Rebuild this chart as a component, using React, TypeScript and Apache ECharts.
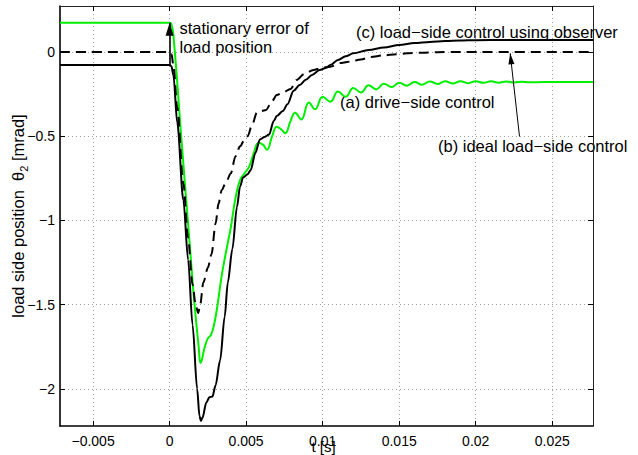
import React, { useEffect, useRef } from "react";
import * as echarts from "echarts";

// ---- axis ticks ----
const xTicks = [-0.005, 0, 0.005, 0.01, 0.015, 0.02, 0.025];
const xTickLabels = ["\u22120.005", "0", "0.005", "0.01", "0.015", "0.02", "0.025"];
const yTicks = [-2, -1.5, -1, -0.5, 0];
const yTickLabels = ["\u22122", "\u22121.5", "\u22121", "\u22120.5", "0"];
const xRange = [-0.00716, 0.02766];
const yRange = [-2.22, 0.273];

// ---- (a) drive-side control (green) ----
const tA = [
  -0.00716, 0.0, 0.00012, 0.00025, 0.0008, 0.00132, 0.0016, 0.0019, 0.00202, 0.0021,
  0.0023, 0.0025, 0.0027, 0.0029, 0.0031, 0.0034, 0.0037, 0.004, 0.0043, 0.0046,
  0.0049, 0.0052, 0.0055, 0.0058, 0.0061, 0.00635, 0.0067, 0.007, 0.0073, 0.00755,
  0.0079, 0.0082, 0.0086, 0.0091, 0.0095, 0.01, 0.0105, 0.011, 0.0115, 0.012,
  0.0125, 0.013, 0.0135, 0.014, 0.0145, 0.015, 0.0155, 0.016, 0.0165, 0.017,
  0.0175, 0.018, 0.0185, 0.019, 0.0195, 0.02, 0.0205, 0.021, 0.0215, 0.022,
  0.0225, 0.023, 0.0235, 0.0245, 0.02766,
];
const vA = [
  0.174, 0.174, 0.165, 0.1, -0.55, -1.15, -1.47, -1.75, -1.846, -1.83,
  -1.75, -1.7, -1.68, -1.62, -1.52, -1.33, -1.18, -1.04, -0.87, -0.76,
  -0.72, -0.68, -0.6, -0.54, -0.55, -0.58, -0.5, -0.443, -0.46, -0.482,
  -0.41, -0.36, -0.4, -0.3, -0.34, -0.265, -0.295, -0.235, -0.265, -0.213,
  -0.24, -0.198, -0.222, -0.188, -0.208, -0.182, -0.2, -0.178, -0.194, -0.175,
  -0.19, -0.174, -0.187, -0.173, -0.185, -0.173, -0.183, -0.174, -0.182, -0.175,
  -0.181, -0.176, -0.18, -0.178, -0.178,
];

// ---- (b) ideal load-side control (dashed) ----
const tB = [
  -0.00716, 0.0, 0.00012, 0.00025, 0.0005, 0.0009, 0.0012, 0.0015, 0.0017, 0.00187,
  0.002, 0.0022, 0.0025, 0.00274, 0.003, 0.0032, 0.0034, 0.0037, 0.004, 0.0043,
  0.0046, 0.0049, 0.0051, 0.0054, 0.0057, 0.006, 0.0063, 0.0067, 0.007, 0.0074,
  0.0079, 0.0083, 0.0088, 0.0094, 0.0099, 0.0105, 0.0112, 0.0118, 0.0125, 0.0131,
  0.014, 0.0148, 0.0155, 0.0165, 0.0175, 0.019, 0.02766,
];
const vB = [
  0, 0, -0.01, -0.08, -0.33, -0.78, -1.1, -1.38, -1.5, -1.55,
  -1.5, -1.37, -1.28, -1.2, -1.02, -0.9, -0.82, -0.77, -0.72, -0.62,
  -0.56, -0.52, -0.5, -0.43, -0.36, -0.35, -0.344, -0.29, -0.255, -0.24,
  -0.22, -0.166, -0.13, -0.107, -0.095, -0.087, -0.065, -0.057, -0.045, -0.03,
  -0.02, -0.014, -0.008, -0.004, -0.001, 0, 0,
];

// ---- (c) load-side control using observer (solid black) ----
const tC = [
  -0.00716, 0.0, 0.00012, 0.00025, 0.0005, 0.0009, 0.00121, 0.0015, 0.0018, 0.00195,
  0.00205, 0.00215, 0.0024, 0.0026, 0.0028, 0.003, 0.0033, 0.0036, 0.0038, 0.0041,
  0.0044, 0.0046, 0.0048, 0.0051, 0.0053, 0.0056, 0.0059, 0.0062, 0.0065, 0.0068,
  0.007, 0.0074, 0.0077, 0.0081, 0.0085, 0.0089, 0.0093, 0.0098, 0.0102, 0.0105,
  0.011, 0.0115, 0.012, 0.013, 0.014, 0.015, 0.016, 0.017, 0.018, 0.019,
  0.02, 0.022, 0.02766,
];
const vC = [
  -0.077, -0.077, -0.085, -0.14, -0.42, -0.88, -1.234, -1.62, -2.0, -2.16,
  -2.19, -2.17, -2.08, -2.05, -2.045, -1.98, -1.83, -1.57, -1.37, -1.17,
  -0.92, -0.8, -0.745, -0.725, -0.7, -0.6, -0.52, -0.505, -0.49, -0.41,
  -0.38, -0.35, -0.31, -0.23, -0.196, -0.165, -0.136, -0.107, -0.095, -0.077,
  -0.047, -0.025, -0.008, 0.012, 0.027, 0.042, 0.053, 0.06, 0.065, 0.068,
  0.07, 0.071, 0.071,
];

// ---- annotation arrows (data coords: [tail, head]) ----
const errArrowT = [0, 0];
const errArrowV = [-0.077, 0.174];
const idealArrowT = [0.02286, 0.02225];
const idealArrowV = [-0.502, -0.008];

const FONT = "'Liberation Sans', Arial, Helvetica, sans-serif";

function zip(t: number[], v: number[]) {
  return t.map((x, i) => [x, v[i]]);
}

function lookup(ticks: number[], labels: string[], v: number) {
  const i = ticks.findIndex((t) => Math.abs(t - v) < 1e-9);
  return i >= 0 ? labels[i] : "";
}

export default function App() {
  const ref = useRef<HTMLDivElement>(null);
  useEffect(() => {
    if (!ref.current) return;
    const chart = echarts.init(ref.current, null, { renderer: "svg" });
    const grid = { color: "#a0a0a0", type: [1, 3] as any, width: 1 };
    const option: any = {
      animation: false,
      backgroundColor: "#fff",
      grid: { left: 60, top: 6, width: 533, height: 420, outerBoundsMode: "none", containLabel: false },
      xAxis: [
        {
          type: "value",
          position: "bottom",
          min: xRange[0],
          max: xRange[1],
          axisLine: { onZero: false, lineStyle: { color: "#000", width: 1.6 } },
          axisTick: { inside: true, length: 5, customValues: xTicks, lineStyle: { color: "#000" } },
          axisLabel: {
            customValues: xTicks,
            formatter: (v: number) => lookup(xTicks, xTickLabels, v),
            color: "#000",
            fontSize: 14,
            fontFamily: FONT,
            margin: 8,
          },
          splitLine: { show: true, lineStyle: grid },
          name: "t [s]",
          nameLocation: "middle",
          nameGap: 13,
          nameMoveOverlap: false,
          nameTextStyle: { color: "#000", fontSize: 15, lineHeight: 15, fontFamily: FONT, padding: [0, 6, 0, 0] },
        },
        {
          type: "value",
          position: "top",
          min: xRange[0],
          max: xRange[1],
          axisLine: { onZero: false, lineStyle: { color: "#222", width: 1 } },
          axisTick: { inside: true, length: 5, customValues: xTicks, lineStyle: { color: "#000" } },
          axisLabel: { show: false },
          splitLine: { show: false },
        },
      ],
      yAxis: [
        {
          type: "value",
          position: "left",
          min: yRange[0],
          max: yRange[1],
          axisLine: { show: true, onZero: false, lineStyle: { color: "#000", width: 1.6 } },
          axisTick: { show: true, inside: true, length: 5, customValues: yTicks, lineStyle: { color: "#000" } },
          axisLabel: {
            customValues: yTicks,
            formatter: (v: number) => lookup(yTicks, yTickLabels, v),
            color: "#000",
            fontSize: 14,
            fontFamily: FONT,
            margin: 5,
          },
          splitLine: { show: true, lineStyle: grid },
          name: "load side position  \u03b8{sub|2} [mrad]",
          nameLocation: "middle",
          nameGap: 31,
          nameMoveOverlap: false,
          nameTextStyle: {
            color: "#000",
            fontSize: 16.5,
            fontFamily: FONT,
            lineHeight: 22,
            rich: {
              sub: { fontSize: 11, fontFamily: FONT, color: "#000", verticalAlign: "bottom", lineHeight: 22 },
            },
          },
        },
        {
          type: "value",
          position: "right",
          min: yRange[0],
          max: yRange[1],
          axisLine: { show: true, onZero: false, lineStyle: { color: "#222", width: 1 } },
          axisTick: { show: true, inside: true, length: 5, customValues: yTicks, lineStyle: { color: "#000" } },
          axisLabel: { show: false },
          splitLine: { show: false },
        },
      ],
      series: [
        {
          name: "(a)",
          type: "line",
          data: zip(tA, vA),
          showSymbol: false,
          smooth: 0.45,
          lineStyle: { color: "#00ee00", width: 2 },
          z: 3,
        },
        {
          name: "(b)",
          type: "line",
          data: zip(tB, vB),
          showSymbol: false,
          smooth: 0.3,
          smoothMonotone: "x",
          lineStyle: { color: "#000", width: 2, type: [10, 6] },
          z: 4,
          markLine: {
            silent: true,
            animation: false,
            label: { show: false },
            lineStyle: { color: "#000", width: 1, type: "solid" },
            data: [
              [
                { coord: [idealArrowT[0], idealArrowV[0]], symbol: "none" },
                { coord: [idealArrowT[1], idealArrowV[1]], symbol: "triangle", symbolSize: [6, 11], symbolOffset: [0, 5.5] },
              ],
            ],
          },
        },
        {
          name: "(c)",
          type: "line",
          data: zip(tC, vC),
          showSymbol: false,
          smooth: 0.3,
          smoothMonotone: "x",
          lineStyle: { color: "#000", width: 2 },
          z: 5,
          markLine: {
            silent: true,
            animation: false,
            label: { show: false },
            lineStyle: { color: "#000", width: 1.6, type: "solid" },
            data: [
              [
                { coord: [errArrowT[0], errArrowV[0]], symbol: "none" },
                { coord: [errArrowT[1], errArrowV[1]], symbol: "triangle", symbolSize: [8, 13], symbolOffset: [0, 6.5] },
              ],
            ],
          },
        },
      ],
      graphic: [
        { type: "text", x: 179.5, y: 28, style: { text: "stationary error of", fontSize: 16.5, fontFamily: FONT, fill: "#000", align: "left", verticalAlign: "middle" } },
        { type: "text", x: 179.5, y: 47, style: { text: "load position", fontSize: 16.5, fontFamily: FONT, fill: "#000", align: "left", verticalAlign: "middle" } },
        { type: "text", x: 356, y: 32, style: { text: "(c) load\u2212side control using observer", fontSize: 16.5, fontFamily: FONT, fill: "#000", align: "left", verticalAlign: "middle" } },
        { type: "text", x: 340, y: 101.5, style: { text: "(a) drive\u2212side control", fontSize: 16.5, fontFamily: FONT, fill: "#000", align: "left", verticalAlign: "middle" } },
        { type: "text", x: 438, y: 145.5, style: { text: "(b) ideal load\u2212side control", fontSize: 16.5, fontFamily: FONT, fill: "#000", align: "left", verticalAlign: "middle" } },
      ],
    };
    chart.setOption(option);
    return () => chart.dispose();
  }, []);
  return (
    <div
      ref={ref}
      style={{ position: "fixed", left: 0, top: 0, width: 638, height: 455, background: "#fff" }}
    />
  );
}
